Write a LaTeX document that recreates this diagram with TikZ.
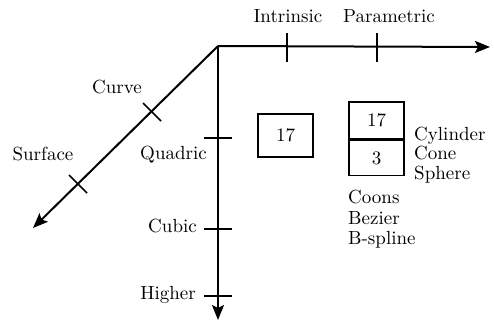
\documentclass[tikz,border=0pt]{standalone}
\usepackage{fontspec}
\setmainfont{lmroman10-regular.otf}
\usetikzlibrary{arrows.meta}
\begin{document}
\begin{tikzpicture}[x=1pt,y=-1pt,
  axis/.style={line width=2pt,-{Stealth[length=15pt,width=12pt,inset=3pt]}},
  tick/.style={line width=1.5pt},
  lbl/.style={inner sep=0pt,font=\fontsize{19}{20}\selectfont},
  box/.style={draw,line width=1.5pt,inner sep=0pt,font=\fontsize{19}{20}\selectfont}]
\useasboundingbox (0,0) rectangle (494,321);
% axes
\coordinate (O) at (218,46);
\coordinate (X) at (490,47);
\coordinate (Y) at (218,320);
\coordinate (D) at (33,228);
\draw[axis] (O) -- (X);
\draw[axis] (O) -- (Y);
\draw[axis] (O) -- (D);
% ticks on horizontal axis
\coordinate (t1) at (287,47);
\coordinate (t2) at (377,47);
\draw[tick] ([yshift=-15]t1) -- ([yshift=14]t1);
\draw[tick] ([yshift=-15]t2) -- ([yshift=14]t2);
% ticks on vertical axis
\coordinate (v1) at (218,138);
\coordinate (v2) at (218,229);
\coordinate (v3) at (218,296);
\foreach \v in {v1,v2,v3}{\draw[tick] ([xshift=-14]\v) -- ([xshift=14]\v);}
% ticks on diagonal
\coordinate (d1) at (152,112);
\coordinate (d2) at (78,184);
\foreach \d in {d1,d2}{\draw[tick] ([shift={(-9,-9)}]\d) -- ([shift={(9,9)}]\d);}
% labels
\node[lbl,anchor=base] (intr) at (288,23) {Intrinsic};
\node[lbl,anchor=base] (para) at (389,23) {Parametric};
\node[lbl,anchor=base] (curve) at (117,93) {Curve};
\node[lbl,anchor=base] (surf) at (43,160) {Surface};
\node[lbl,anchor=base east] (quad) at (207,159) {Quadric};
\node[lbl,anchor=base east] (cub) at (197,232) {Cubic};
\node[lbl,anchor=base east] (high) at (196,299) {Higher};
% boxes
\node[box,minimum width=55pt,minimum height=43pt] (b1) at (285.5,135.5) {17};
\node[box,minimum width=55pt,minimum height=37pt] (b2) at (376.5,120.5) {17};
\node[box,minimum width=55pt,minimum height=35pt,anchor=north] (b3) at (b2.south) {3};
% lists
\node[lbl,anchor=base west] (cyl) at (414,140) {Cylinder};
\node[lbl,anchor=base west] (cone) at (414,159.5) {Cone};
\node[lbl,anchor=base west] (sph) at (414,179) {Sphere};
\node[lbl,anchor=base west] (coons) at (348,203.5) {Coons};
\node[lbl,anchor=base west] (bez) at (348,224) {Bezier};
\node[lbl,anchor=base west] (bsp) at (348,244.5) {B-spline};
\end{tikzpicture}
\end{document}
